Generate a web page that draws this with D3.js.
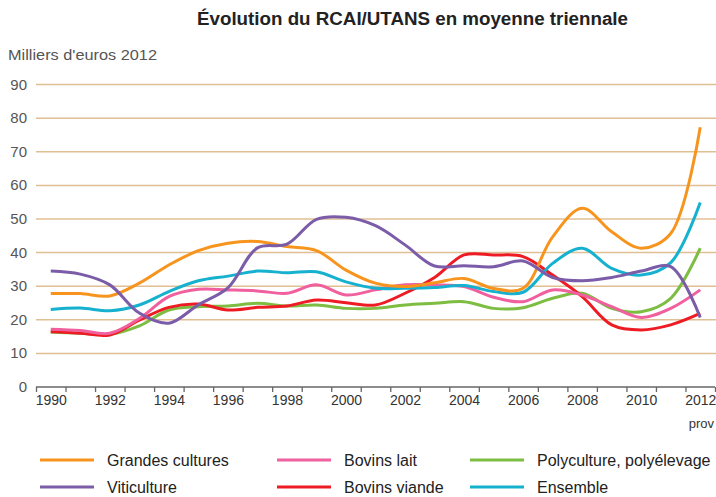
<!DOCTYPE html>
<html>
<head>
<meta charset="utf-8">
<script src="https://cdn.jsdelivr.net/npm/d3@7"></script>
<style>
  body { margin: 0; background: #fff; }
  text { font-family: "Liberation Sans", Arial, sans-serif; }
</style>
</head>
<body>
<script>
// RCAI/UTANS, milliers d'euros 2012, moyenne triennale
var years = d3.range(1990, 2013);

var grandesCultures = [27.8, 27.8, 27.1, 30.9, 36.3, 40.6, 42.8, 43.3, 41.8, 40.6, 34.8, 30.9, 29.9, 31.0, 32.3, 29.3, 29.4, 44.7, 53.2, 46.2, 41.3, 45.7, 77.3];
var viticulture     = [34.5, 33.6, 30.4, 22.0, 19.0, 24.5, 29.5, 41.4, 42.5, 49.9, 50.5, 48.0, 42.3, 36.0, 36.1, 35.8, 37.5, 32.6, 31.6, 32.6, 34.5, 35.8, 20.7];
var bovinsLait      = [17.2, 16.8, 16.0, 20.4, 26.9, 29.1, 28.9, 28.6, 27.9, 30.4, 27.4, 28.9, 30.4, 30.4, 29.9, 26.7, 25.4, 28.9, 27.4, 23.9, 20.7, 23.4, 28.9];
var bovinsViande    = [16.5, 16.0, 15.5, 19.9, 23.7, 24.7, 22.9, 23.7, 24.1, 25.9, 25.1, 24.4, 27.9, 32.6, 39.3, 39.3, 38.8, 33.3, 26.9, 18.5, 17.0, 18.5, 21.9];
var polyculture     = [16.3, 16.0, 15.7, 18.2, 22.9, 23.9, 24.1, 24.9, 24.1, 24.4, 23.4, 23.4, 24.4, 24.9, 25.4, 23.4, 23.6, 26.4, 27.9, 23.4, 22.4, 26.4, 41.3];
var ensemble        = [23.1, 23.5, 22.7, 24.4, 28.4, 31.6, 33.0, 34.5, 34.0, 34.3, 31.3, 29.4, 29.4, 29.6, 30.2, 28.4, 28.2, 36.8, 41.3, 35.3, 33.3, 37.0, 54.9];

var seriesNames  = ["Grandes cultures", "Viticulture", "Bovins lait", "Bovins viande", "Polyculture, polyélevage", "Ensemble"];
var seriesValues = [grandesCultures, viticulture, bovinsLait, bovinsViande, polyculture, ensemble];
var seriesColors = ["#f7941d", "#7b5ca8", "#f0609f", "#ed1c24", "#7dbd41", "#16b1cf"];

var yTicks = d3.range(0, 100, 10);
var xLabels = d3.range(1990, 2013, 2);

var width = 716, height = 497;

var x = d3.scaleLinear().domain([1989.5, 2012.5]).range([36, 715]);
var y = d3.scaleLinear().domain([0, 90]).range([387, 84.6]);

var svg = d3.select("body").append("svg")
    .attr("width", width)
    .attr("height", height);

svg.append("text")
    .attr("x", 197)
    .attr("y", 25)
    .attr("textLength", 431)
    .attr("lengthAdjust", "spacingAndGlyphs")
    .style("font-size", "18px")
    .style("font-weight", "bold")
    .style("fill", "#222")
    .text("Évolution du RCAI/UTANS en moyenne triennale");

svg.append("text")
    .attr("x", 8)
    .attr("y", 60)
    .attr("textLength", 149)
    .attr("lengthAdjust", "spacingAndGlyphs")
    .style("font-size", "15px")
    .style("fill", "#555")
    .text("Milliers d'euros 2012");

// horizontal grid
svg.append("g").selectAll("line")
    .data(yTicks.filter(function(d) { return d > 0; }))
    .enter().append("line")
    .attr("x1", 36).attr("x2", width)
    .attr("y1", function(d) { return y(d); })
    .attr("y2", function(d) { return y(d); })
    .style("stroke", "#e0bf92")
    .style("stroke-width", 1.5);

// y labels
svg.append("g").selectAll("text")
    .data(yTicks)
    .enter().append("text")
    .attr("x", 27)
    .attr("y", function(d) { return y(d) + 5; })
    .attr("text-anchor", "end")
    .style("font-size", "15px")
    .style("fill", "#555")
    .text(function(d) { return d; });

// x axis: ticks at year boundaries, labels at year centres
var xAxisTicks = d3.axisBottom(x)
    .tickValues(d3.range(1989.5, 2013, 1))
    .tickSize(5)
    .tickFormat("");

var gx = svg.append("g")
    .attr("transform", "translate(0," + y(0) + ")")
    .call(xAxisTicks);
gx.select(".domain").attr("d", "M36,0H715").style("stroke", "#666").style("stroke-width", 1.3);
gx.selectAll(".tick line").style("stroke", "#666").style("stroke-width", 1.3);

var gl = svg.append("g")
    .attr("transform", "translate(0," + y(0) + ")")
    .call(d3.axisBottom(x).tickValues(xLabels).tickSize(0).tickFormat(d3.format("d")));
gl.select(".domain").remove();
gl.selectAll("text")
    .attr("y", 8)
    .style("font-family", "'Liberation Sans', Arial, sans-serif")
    .style("font-size", "14px")
    .style("fill", "#333");

svg.append("text")
    .attr("x", 714)
    .attr("y", 428)
    .attr("text-anchor", "end")
    .style("font-size", "13px")
    .style("fill", "#333")
    .text("prov");

// lines
var line = d3.line()
    .x(function(d, i) { return x(years[i]); })
    .y(function(d) { return y(d); })
    .curve(d3.curveCatmullRom.alpha(0.5));

var drawOrder = [4, 3, 2, 5, 0, 1];
svg.append("g").selectAll("path")
    .data(drawOrder)
    .enter().append("path")
    .attr("d", function(k) { return line(seriesValues[k]); })
    .style("fill", "none")
    .style("stroke", function(k) { return seriesColors[k]; })
    .style("stroke-width", 3)
    .style("stroke-linejoin", "round");

// legend: 3 columns x 2 rows
var legendCols = [40, 277, 470];
var legendRows = [460, 487];
var legendOrder = [0, 2, 4, 1, 3, 5];

var legend = svg.append("g").selectAll("g")
    .data(legendOrder)
    .enter().append("g")
    .attr("transform", function(k, i) {
        return "translate(" + legendCols[i % 3] + "," + legendRows[Math.floor(i / 3)] + ")";
    });

legend.append("line")
    .attr("x1", 0).attr("x2", 54)
    .attr("y1", 0).attr("y2", 0)
    .style("stroke", function(k) { return seriesColors[k]; })
    .style("stroke-width", 3);

legend.append("text")
    .attr("x", 67)
    .attr("y", 6)
    .style("font-size", "16px")
    .style("fill", "#222")
    .text(function(k) { return seriesNames[k]; });
</script>
</body>
</html>
